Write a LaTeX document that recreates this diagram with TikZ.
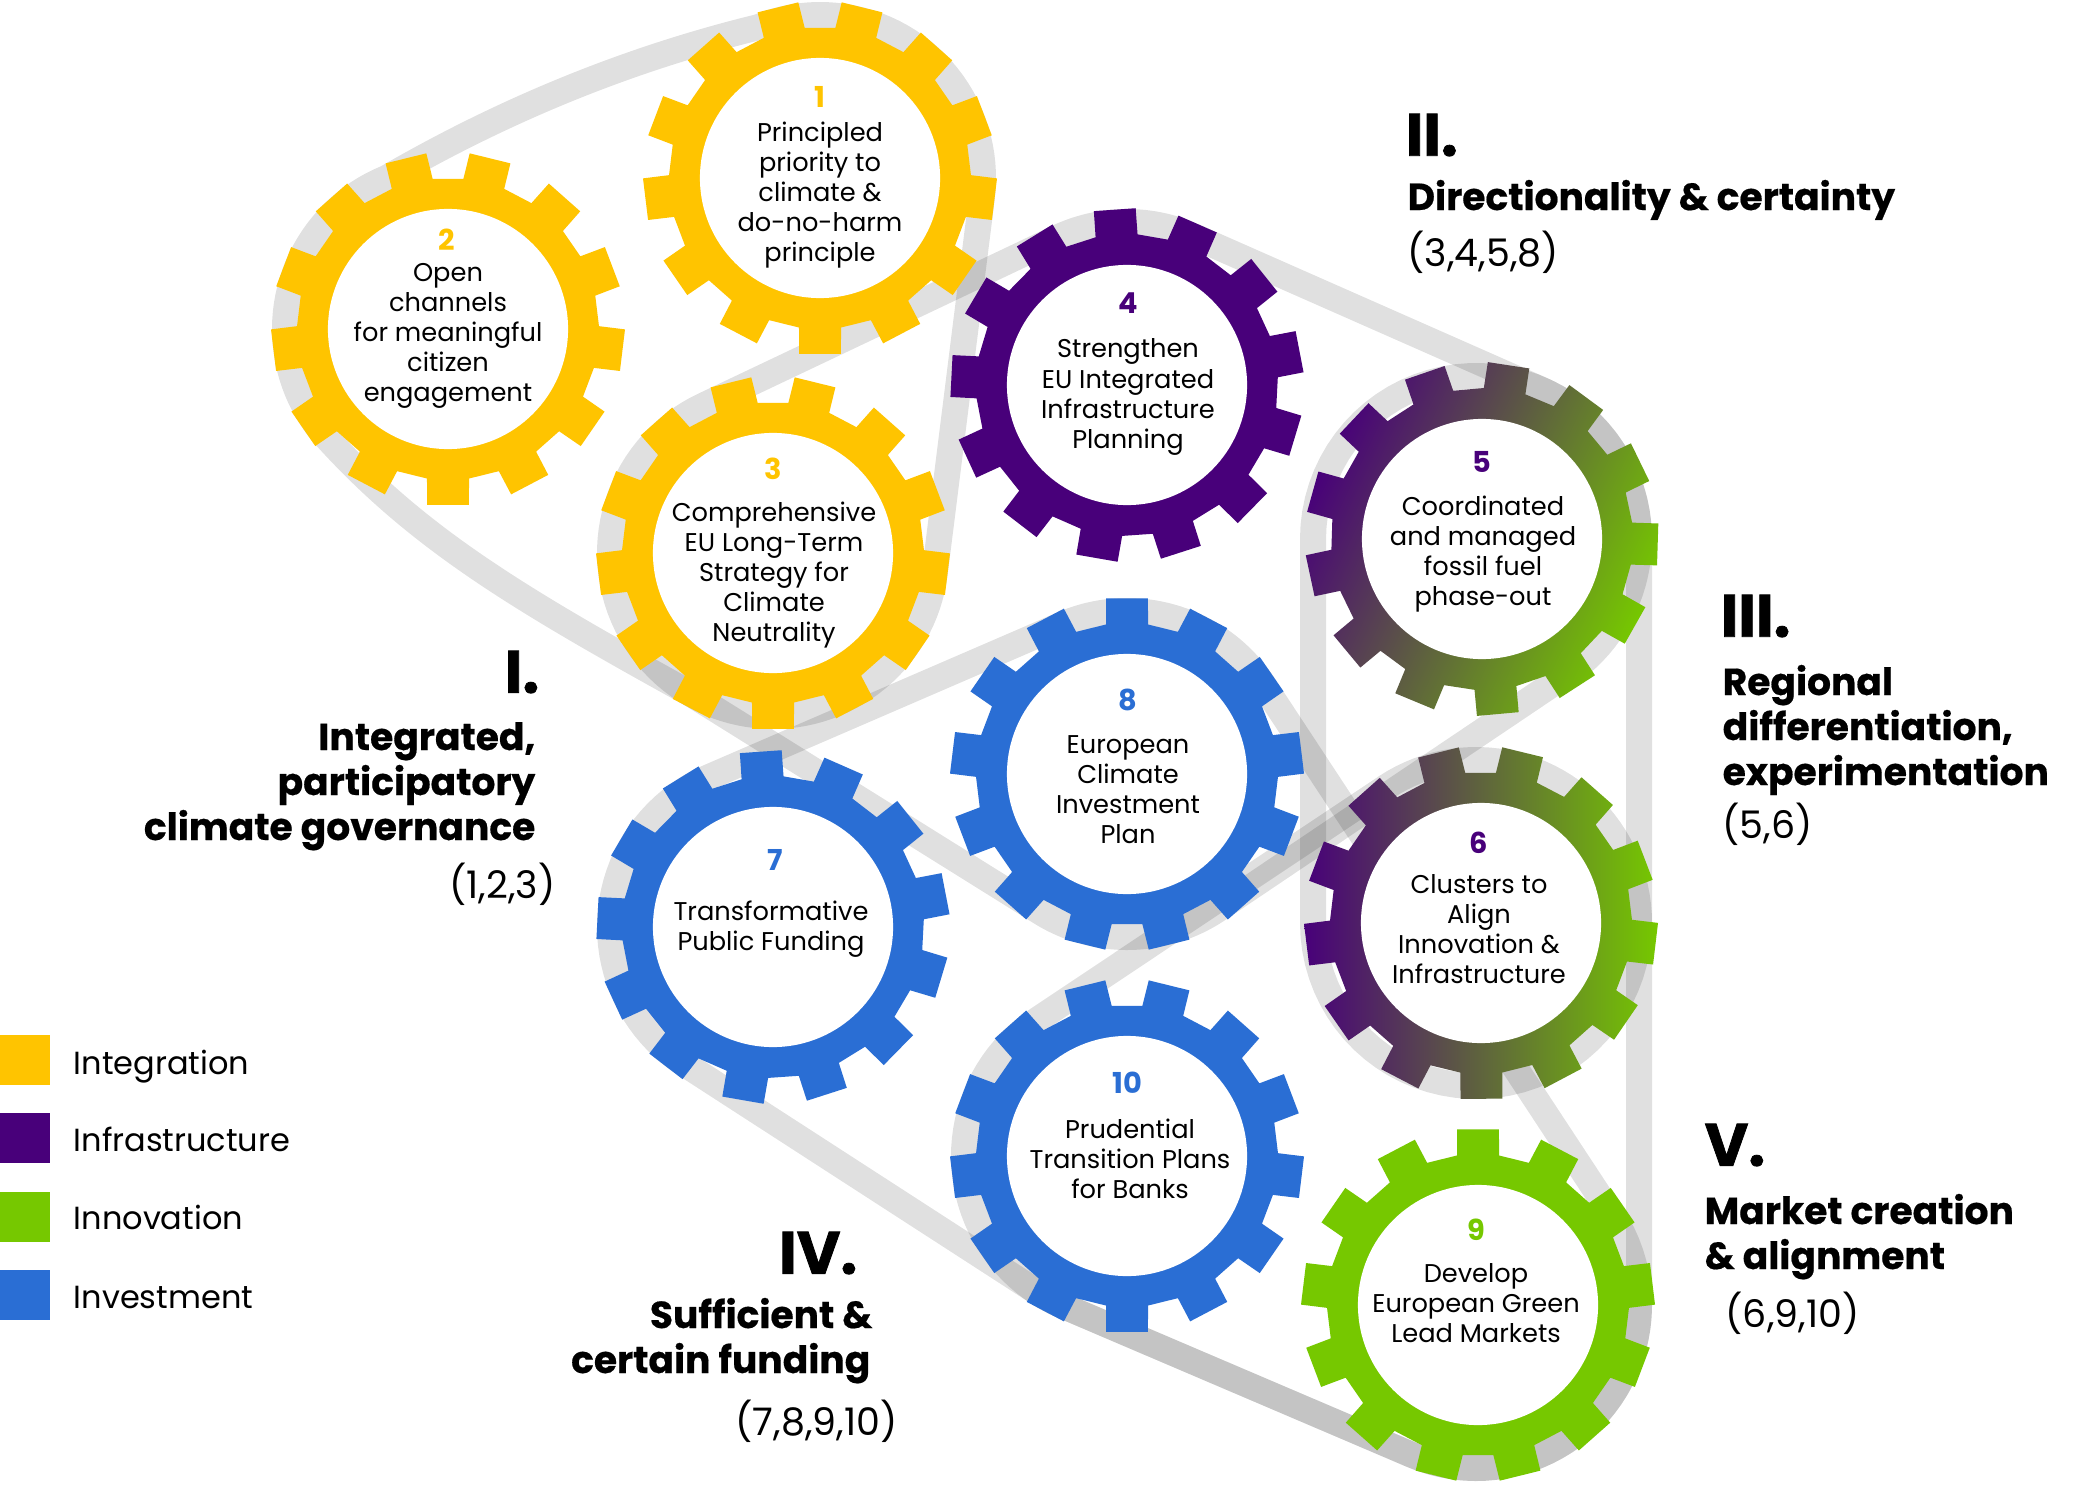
\documentclass[tikz,border=0pt]{standalone}
\usepackage{fontspec}
\setmainfont{Poppins}
\newfontfamily\heavyfont{Poppins}[BoldFeatures={FakeBold=1.3}]
\newfontfamily\titlefont{Poppins}[BoldFeatures={FakeBold=0.5}]
\definecolor{ylw}{HTML}{FFC400}
\definecolor{prp}{HTML}{48007A}
\definecolor{grn}{HTML}{76C800}
\definecolor{blu}{HTML}{2A6ED4}
\definecolor{gmid}{HTML}{5E5048}
\def\br{163}
\tikzset{
 pics/gear/.style n args={2}{code={
   \path[#1] ({#2-8}:151) \foreach \k in {0,...,12}{ -- ({#2+\k*360/13-8}:151) -- ({#2+\k*360/13-6.8}:177) -- ({#2+\k*360/13+6.8}:177) -- ({#2+\k*360/13+8}:151)} -- cycle;
   \fill[white] (0,0) circle[radius=1.2cm];
 }},
 belt/.style={draw=black, draw opacity=0.12, line width=7.4pt, line join=round},
 gtext/.style={font=\fontsize{7.3}{8.54}\selectfont, align=center, inner sep=0pt, text=black},
 gnum/.style={font=\fontsize{8.2}{9}\selectfont\bfseries, inner sep=0pt},
 roman/.style={font=\fontsize{17}{20}\selectfont\heavyfont\bfseries, inner sep=0pt},
 htitle/.style={font=\fontsize{10.7}{12.5}\selectfont\titlefont\bfseries, inner sep=0pt},
 hnums/.style={font=\fontsize{10.8}{12}\selectfont, inner sep=0pt},
 legtext/.style={font=\fontsize{9.1}{11}\selectfont, inner sep=0pt, anchor=base west},
}
\begin{document}
\begin{tikzpicture}[x=0.01cm,y=-0.01cm,samples=40]
\fill[white] (0,0) rectangle (2082,1485);
\useasboundingbox (0,0) rectangle (2082,1485);

% ---- belts ----
% I: 1,2,3
\draw[belt] plot[domain=138:247.9] ({448+\br*cos(\x)},{329+\br*sin(\x)})
 .. controls (504,110) and (628,59) .. (759,27)
 -- plot[domain=247.9:367.15] ({820+\br*cos(\x)},{178+\br*sin(\x)})
 -- plot[domain=7.15:119] ({773+\br*cos(\x)},{553+\br*sin(\x)})
 .. controls (519,599) and (420,540) .. (327,438) -- cycle;
% II: 3,4,5,8
\draw[belt] plot[domain=122:244.6] ({773+\br*cos(\x)},{553+\br*sin(\x)})
 -- plot[domain=244.6:293.5] ({1127+\br*cos(\x)},{385+\br*sin(\x)})
 -- plot[domain=293.5:416.5] ({1476+\br*cos(\x)},{539+\br*sin(\x)})
 -- plot[domain=56.5:122] ({1127+\br*cos(\x)},{774+\br*sin(\x)}) -- cycle;
% III: 5,6
\draw[belt] plot[domain=180:360] ({1476+\br*cos(\x)},{539+\br*sin(\x)})
 -- plot[domain=0:180] ({1476+\br*cos(\x)},{923+\br*sin(\x)}) -- cycle;
% IV: 7,8,9,10
\draw[belt] plot[domain=246.6:326.5] ({1127+\br*cos(\x)},{774+\br*sin(\x)})
 -- plot[domain=326.5:473] ({1476+\br*cos(\x)},{1305+\br*sin(\x)})
 -- plot[domain=113:122.9] ({1127+\br*cos(\x)},{1156+\br*sin(\x)})
 -- plot[domain=122.9:246.6] ({773+\br*cos(\x)},{927+\br*sin(\x)}) -- cycle;
% V: 6,9,10
\draw[belt] plot[domain=236.65:360] ({1476+\br*cos(\x)},{923+\br*sin(\x)})
 -- plot[domain=0:113] ({1476+\br*cos(\x)},{1305+\br*sin(\x)})
 -- plot[domain=113:236.65] ({1127+\br*cos(\x)},{1156+\br*sin(\x)}) -- cycle;

% ---- gears ----
\pic (g1) at (820,178) {gear={fill=ylw}{90}};
\pic (g2) at (448,329) {gear={fill=ylw}{90}};
\pic (g3) at (773,553) {gear={fill=ylw}{90}};
\pic (g4) at (1127,385) {gear={fill=prp}{266}};
\pic (g5) at (1482,539) {gear={left color=prp, middle color=gmid, right color=grn, shading angle=65}{251}};
\pic (g6) at (1481,923) {gear={left color=prp, middle color=gmid, right color=grn}{256}};
\pic (g7) at (773,927) {gear={fill=blu}{266}};
\pic (g8) at (1127,774) {gear={fill=blu}{270}};
\pic (g9) at (1478,1305) {gear={fill=grn}{270}};
\pic (g10) at (1127,1156) {gear={fill=blu}{90}};

% ---- gear numbers ----
\node[gnum, text=ylw] (n1) at (820,97) {1};
\node[gnum, text=ylw] (n2) at (447,240) {2};
\node[gnum, text=ylw] (n3) at (773,469) {3};
\node[gnum, text=prp] (n4) at (1128,303) {4};
\node[gnum, text=prp] (n5) at (1482,462) {5};
\node[gnum, text=prp] (n6) at (1479,843) {6};
\node[gnum, text=blu] (n7) at (775,860) {7};
\node[gnum, text=blu] (n8) at (1128,700) {8};
\node[gnum, text=grn] (n9) at (1476,1230) {9};
\node[gnum, text=blu] (n10) at (1127,1083) {10};

% ---- gear texts ----
\node[gtext] (t1) at (820,195) {Principled\\priority to\\climate \&\\do-no-harm\\principle};
\node[gtext] (t2) at (448,336) {Open\\channels\\for meaningful\\citizen\\engagement};
\node[gtext] (t3) at (774,575) {Comprehensive\\EU Long-Term\\Strategy for\\Climate\\Neutrality};
\node[gtext] (t4) at (1128,397) {Strengthen\\EU Integrated\\Infrastructure\\Planning};
\node[gtext] (t5) at (1483,554) {Coordinated\\and managed\\fossil fuel\\phase-out};
\node[gtext] (t6) at (1479,929) {Clusters to\\Align\\Innovation \&\\Infrastructure};
\node[gtext] (t7) at (771,929) {Transformative\\Public Funding};
\node[gtext] (t8) at (1128,790) {European\\Climate\\Investment\\Plan};
\node[gtext] (t9) at (1476,1303) {Develop\\European Green\\Lead Markets};
\node[gtext] (t10) at (1130,1159) {Prudential\\Transition Plans\\for Banks};

% ---- group headings ----
\node[roman, anchor=east] (h1) at (540,672) {I.};
\node[htitle, anchor=base east] (h1a) at (536,750) {Integrated,};
\node[htitle, anchor=base east] (h1b) at (536,795) {participatory};
\node[htitle, anchor=base east] (h1c) at (536,840) {climate governance};
\node[hnums, anchor=base east] (h1d) at (556,898) {(1,2,3)};

\node[roman, anchor=west] (h2) at (1405,135) {II.};
\node[htitle, anchor=base west] (h2a) at (1407,210) {Directionality \& certainty};
\node[hnums, anchor=base west] (h2b) at (1407,267) {(3,4,5,8)};

\node[roman, anchor=west] (h3) at (1720,616) {III.};
\node[htitle, anchor=base west] (h3a) at (1722,695) {Regional};
\node[htitle, anchor=base west] (h3b) at (1722,740) {differentiation,};
\node[htitle, anchor=base west] (h3c) at (1722,785) {experimentation};
\node[hnums, anchor=base west] (h3d) at (1722,838) {(5,6)};

\node[roman, anchor=east] (h4) at (858,1253) {IV.};
\node[htitle, anchor=base east] (h4a) at (873,1328) {Sufficient \&};
\node[htitle, anchor=base east] (h4b) at (871,1373) {certain funding};
\node[hnums, anchor=base east] (h4c) at (898,1435) {(7,8,9,10)};

\node[roman, anchor=west] (h5) at (1704,1145) {V.};
\node[htitle, anchor=base west] (h5a) at (1704,1224) {Market creation};
\node[htitle, anchor=base west] (h5b) at (1704,1269) {\& alignment};
\node[hnums, anchor=base west] (h5c) at (1725,1327) {(6,9,10)};

% ---- legend ----
\fill[ylw] (0,1035) rectangle (50,1085);
\fill[prp] (0,1113) rectangle (50,1163);
\fill[grn] (0,1192) rectangle (50,1242);
\fill[blu] (0,1270) rectangle (50,1320);
\node[legtext] (l1) at (73,1074) {Integration};
\node[legtext] (l2) at (73,1151) {Infrastructure};
\node[legtext] (l3) at (73,1229) {Innovation};
\node[legtext] (l4) at (73,1308) {Investment};
\end{tikzpicture}
\end{document}
